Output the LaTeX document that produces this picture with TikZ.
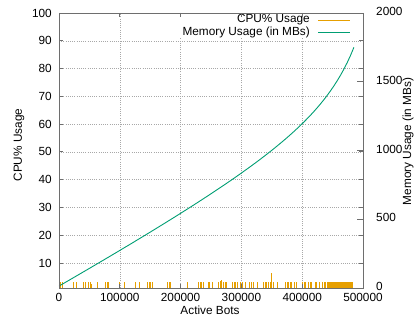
\documentclass[tikz,border=0pt]{standalone}
\usepackage{fontspec}
\setmainfont{Liberation Sans}
\usepackage{xcolor}
\usepackage{tikz}
\definecolor{cpuorange}{HTML}{E69F00}
\definecolor{memgreen}{HTML}{009E73}
\definecolor{bordergray}{HTML}{6E6E6E}
\definecolor{gridgray}{HTML}{A8A8A8}
\tikzset{every node/.append style={font=\fontsize{11.8}{13}\selectfont,inner sep=0pt}}
\tikzset{
  gridline/.style={gridgray,line width=0.5pt,dash pattern=on 1pt off 1.2pt},
  ticmark/.style={bordergray,line width=0.8pt},
  cpubar/.style={cpuorange,line width=0.9pt},
}

\begin{document}
\begin{tikzpicture}[x=1pt,y=1pt]
  \useasboundingbox (-59,-33) rectangle (359,288);
  % CPU axis: 1..100, active bots in thousands
  \begin{scope}[x=0.608pt,y=2.7778pt,yshift=-2.7778pt]
    \foreach \v in {10,20,...,90}
      \draw[gridline] (0,\v) -- (500,\v);
    \foreach \k in {100,200,300,400}
      \draw[gridline] (\k,1) -- (\k,100);
    % CPU% samples
    \foreach \k/\h in {1.6/3.2,4.9/3.2,23/3.2,28/3.2,41/3.2,44/3.2,48/3.2,51/3.2,54/2.6,
        62.5/3.2,75.7/3.2,79/3.2,82/3.2,98.7/3.2,107/3.2,125/3.2,133/3.2,145/3.2,148/3.2,
        151/3.2,153/3.2,178/3.2,181/3.2,184/3.2,212/3.2,229/3.2,232/3.2,235/3.2,237/3.2,
        245/3.2,248/3.2,252/3.2,261.5/3.2,265/3.6,268/4,270/3.2,273/3.2,276/3.2,284.5/3.2,
        288/3.2,289.5/3.2,293/2.6,294/3.2,298/3.2,301/3.2,306/3.2,314/3.2,317/3.2,319/3.2,
        326/3.2,327/3.2,335.5/3.2,339/3.2,342/3.2,344/3.2,347/3.2,350/6.3,352/3.2,360/3.2,
        372/3.2,375/3.2,378/3.2,380/3.2,383/3.2,386.5/3.2,390/3.2,391/3.2,400/3.2,403/3.2,
        405/3.2,410/3.2,413/3.2,416/3.2,421/3.2,424/3.2,428/3.2,429/3.2,432.5/3.2,436/3.2,
        437.5/3.2}
      \draw[cpubar] (\k,1) -- (\k,\h);
    \foreach \k in {441,442.5,...,484}
      \draw[cpubar] (\k,1) -- (\k,3.2);
  \end{scope}
  % memory axis: 0..2000 MB
  \begin{scope}[x=0.608pt,y=0.1375pt]
    \draw[memgreen,line width=0.9pt] plot[domain=0:485,samples=90]
      (\x,{-74.4+2.4*\x+495.24/(5.6-\x/100)});
  \end{scope}
  % key
  \fill[white] (118,250) rectangle (303,274);
  \node[anchor=east] (keycpu) at (251,268) {CPU\% Usage};
  \node[anchor=east] (keymem) at (251,256) {Memory Usage (in MBs)};
  \coordinate (cpuA) at (259,267.5);
  \coordinate (cpuB) at (291,267.5);
  \coordinate (memA) at (259,255.5);
  \coordinate (memB) at (291,255.5);
  \draw[cpuorange,line width=0.9pt] (cpuA) -- (cpuB);
  \draw[memgreen,line width=0.9pt] (memA) -- (memB);
  % tics and tic labels
  \begin{scope}[x=0.608pt,y=2.7778pt,yshift=-2.7778pt]
    \foreach \v in {10,20,...,100} {
      \draw[ticmark] (0,\v) -- ++(4pt,0);
      \draw[ticmark] (500,\v) -- ++(-4pt,0);
      \node[anchor=east] (ylab\v) at ([xshift=-7pt]0,\v) {\v};
    }
    \foreach \k in {0,100,...,500} {
      \draw[ticmark] (\k,1) -- ++(0,4pt);
      \draw[ticmark] (\k,100) -- ++(0,-4pt);
    }
  \end{scope}
  \begin{scope}[x=0.608pt,y=0.1375pt]
    \foreach \m in {500,1000,1500}
      \draw[ticmark] (500,\m) -- ++(-6pt,0);
    \foreach \m in {0,500,...,2000}
      \node[anchor=west] (y2lab\m) at ([xshift=13pt,yshift=1.5pt]500,\m) {\m};
  \end{scope}
  % border
  \draw[bordergray,line width=0.9pt] (0,0) rectangle (304,275);
  \foreach \k/\t in {0/0,60.8/100000,121.6/200000,182.4/300000,243.2/400000,304/500000}
    \node (xlab\t) at (\k,-9.5) {\t};
  % axis titles
  \node (xtitle) at (151,-22.5) {Active Bots};
  \node[rotate=90] (ytitle) at (-40,143) {CPU\% Usage};
  \node[rotate=90] (y2title) at (349,146.5) {Memory Usage (in MBs)};
\end{tikzpicture}
\end{document}
